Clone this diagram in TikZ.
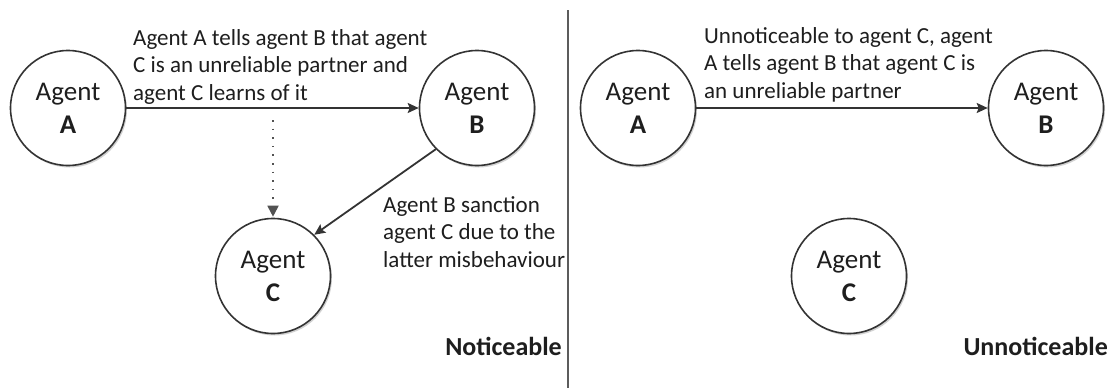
\documentclass[tikz,border=0pt]{standalone}
\usepackage{fontspec}
\setmainfont{Carlito}
\usetikzlibrary{arrows.meta,shadows}
\definecolor{ink}{HTML}{1E1E1E}
\definecolor{edge}{HTML}{333333}
\begin{document}
\begin{tikzpicture}[x=1pt,y=-1pt,
  agent/.style={circle, draw=edge, line width=1.6pt, minimum size=115pt, inner sep=0pt,
    fill=white, align=center, text=ink, font=\fontsize{27}{33}\selectfont,
    drop shadow={opacity=0.35, shadow xshift=1.5pt, shadow yshift=-2pt}},
  msg/.style={line width=1.8pt, draw=edge, -{Stealth[length=11pt,width=10pt,inset=2pt]}},
  hint/.style={line width=1.8pt, draw=edge!85, dash pattern=on 1.6pt off 7pt,
    -{Triangle[length=11pt,width=11pt,sep=1pt]}},
  lbl/.style={align=left, inner sep=0pt, anchor=north west, text=ink, font=\fontsize{23}{27.5}\selectfont},
  panel/.style={font=\bfseries\fontsize{26}{30}\selectfont, inner sep=0pt, anchor=base east, text=ink},
  divider/.style={line width=1.5pt, draw=edge!80}]
\useasboundingbox[fill=white] (0,0) rectangle (1111,388);

% left panel
\node[agent] (lA) at (68,108) {Agent\\\textbf{A}};
\node[agent] (lB) at (477,108) {Agent\\\textbf{B}};
\node[agent] (lC) at (273,276) {Agent\\\textbf{C}};
\draw[msg] (lA) -- (lB);
\coordinate (ld) at (273,120);
\draw[hint] (ld) -- (lC);
\draw[msg] (lB.-135) -- (lC.45);
\node[lbl] (lt1) at (133,29) {Agent A tells agent B that agent\\C is an unreliable partner and\\agent C learns of it};
\node[lbl] (lt2) at (383,196) {Agent B sanction\\agent C due to the\\latter misbehaviour};
\node[panel] (lp) at (562,355) {Noticeable};

% divider
\coordinate (s1) at (568,10);
\coordinate (s2) at (568,388);
\draw[divider] (s1) -- (s2);

% right panel
\node[agent] (rA) at (638,108) {Agent\\\textbf{A}};
\node[agent] (rB) at (1046,108) {Agent\\\textbf{B}};
\node[agent] (rC) at (849,276) {Agent\\\textbf{C}};
\draw[msg] (rA) -- (rB);
\node[lbl] (rt1) at (704,27) {Unnoticeable to agent C, agent\\A tells agent B that agent C is\\an unreliable partner};
\node[panel] (rp) at (1108,355) {Unnoticeable};
\end{tikzpicture}
\end{document}
